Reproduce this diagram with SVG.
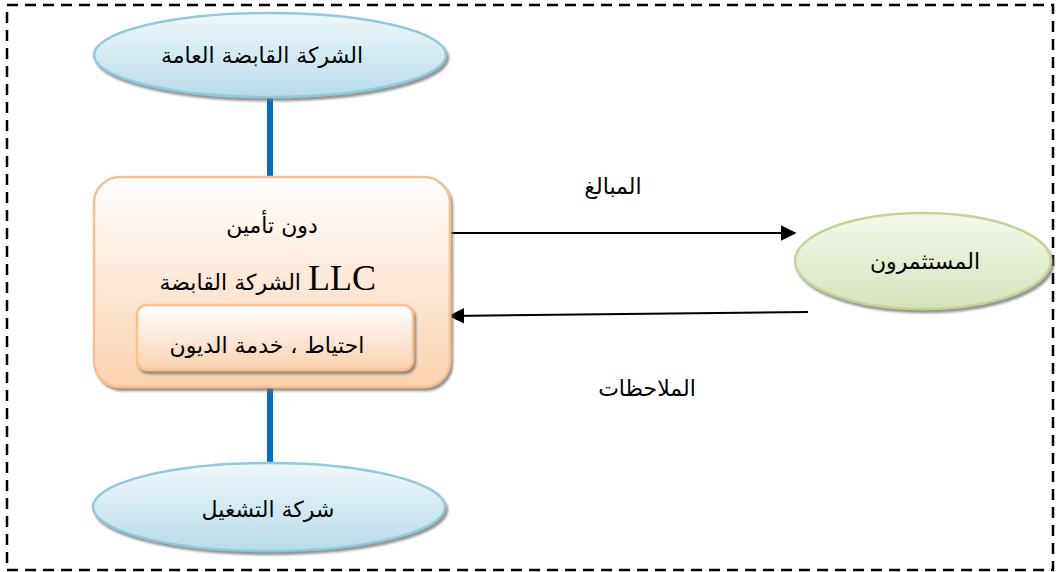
<svg xmlns="http://www.w3.org/2000/svg" width="1058" height="572" viewBox="0 0 1058 572">
  <defs>
    <linearGradient id="gBlue" x1="0" y1="0" x2="0" y2="1">
      <stop offset="0" stop-color="#eef8fb"/>
      <stop offset="1" stop-color="#b7dce7"/>
    </linearGradient>
    <linearGradient id="gGreen" x1="0" y1="0" x2="0" y2="1">
      <stop offset="0" stop-color="#f4f8ec"/>
      <stop offset="1" stop-color="#d5e3ba"/>
    </linearGradient>
    <linearGradient id="gOrange" x1="0" y1="0" x2="0" y2="1">
      <stop offset="0" stop-color="#ffffff"/>
      <stop offset="1" stop-color="#fbd1ae"/>
    </linearGradient>
    <filter id="sh" x="-10%" y="-10%" width="120%" height="130%">
      <feDropShadow dx="2" dy="3" stdDeviation="1.2" flood-color="#6f6f6f" flood-opacity="0.75"/>
    </filter>
    <marker id="arr" viewBox="0 0 10 10" refX="9" refY="5" markerWidth="8" markerHeight="8" orient="auto" markerUnits="strokeWidth">
      <path d="M0,0 L10,5 L0,10 z" fill="#000"/>
    </marker>
  </defs>
  <style>
    .ar { font-family: "DejaVu Sans", "Noto Sans", sans-serif; font-size: 22px; fill: #000; }
    .blueE { fill: url(#gBlue); stroke: #8fcadb; stroke-width: 2.5; filter: url(#sh); }
    .link { stroke: #0070c0; stroke-width: 6; fill: none; }
    .flow { stroke: #000; stroke-width: 2; fill: none; marker-end: url(#arr); }
  </style>

  <rect x="7" y="5" width="1046" height="565" fill="none" stroke="#000" stroke-width="2.5" stroke-dasharray="11,7"/>

  <g id="connectors">
    <line class="link" x1="270" y1="98" x2="270" y2="178"/>
    <line class="link" x1="270" y1="387" x2="270" y2="462"/>
    <line class="flow" x1="447" y1="233" x2="795" y2="233"/>
    <line class="flow" x1="808" y1="312" x2="450" y2="316"/>
    <text class="ar" x="613" y="194" text-anchor="middle" direction="rtl">المبالغ</text>
    <text class="ar" x="647" y="396" text-anchor="middle" direction="rtl">الملاحظات</text>
  </g>

  <g id="holding-general">
    <ellipse class="blueE" cx="270" cy="55" rx="176" ry="42"/>
    <text class="ar" x="262" y="63" text-anchor="middle" direction="rtl">الشركة القابضة العامة</text>
  </g>

  <g id="holding-llc">
    <rect x="94" y="177" width="356" height="210" rx="26" fill="url(#gOrange)" stroke="#f9bf8c" stroke-width="2.5" filter="url(#sh)"/>
    <text class="ar" x="272" y="233" text-anchor="middle" direction="rtl">دون تأمين</text>
    <text class="ar" x="301" y="290" text-anchor="end" direction="ltr">الشركة القابضة</text>
    <text x="308" y="290" font-family="Liberation Serif, serif" font-size="36" fill="#000">LLC</text>
  </g>

  <g id="debt-reserve">
    <rect x="137" y="305" width="276" height="65" rx="10" fill="url(#gOrange)" stroke="#f9bf8c" stroke-width="2.5" filter="url(#sh)"/>
    <text class="ar" x="267" y="353" text-anchor="middle" direction="rtl">احتياط ، خدمة الديون</text>
  </g>

  <g id="operating">
    <ellipse class="blueE" cx="269" cy="507" rx="176" ry="44"/>
    <text class="ar" x="268" y="517" text-anchor="middle" direction="rtl">شركة التشغيل</text>
  </g>

  <g id="investors">
    <ellipse cx="923" cy="261" rx="128" ry="48" fill="url(#gGreen)" stroke="#c0d495" stroke-width="2.5" filter="url(#sh)"/>
    <text class="ar" x="925" y="269" text-anchor="middle" direction="rtl">المستثمرون</text>
  </g>
</svg>
